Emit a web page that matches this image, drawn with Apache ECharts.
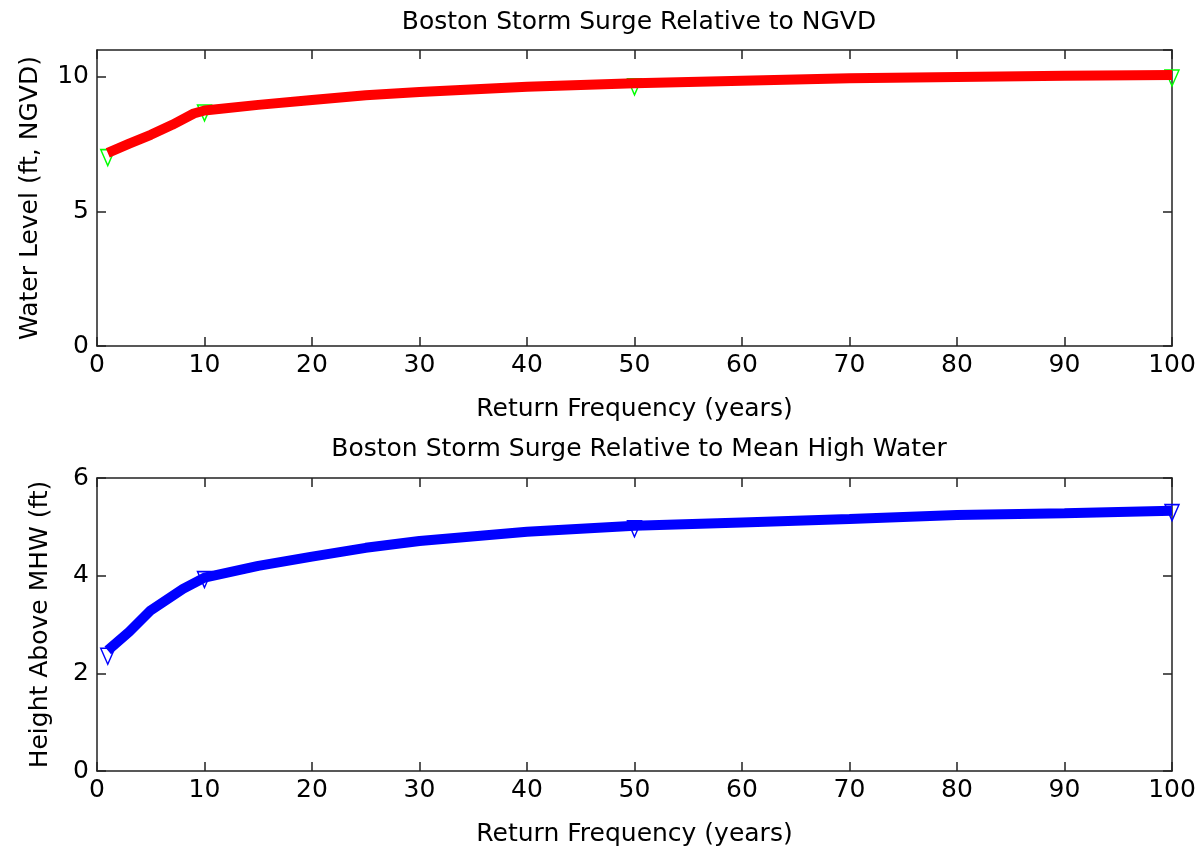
<!DOCTYPE html>
<html>
<head>
<meta charset="utf-8">
<script src="https://cdn.jsdelivr.net/npm/echarts@6/dist/echarts.min.js"></script>
<style>
html,body{margin:0;padding:0;background:#fff;}
#chart{width:1199px;height:850px;}
</style>
</head>
<body>
<div id="chart"></div>
<script>
// ---- data ----
const topTitle = "Boston Storm Surge Relative to NGVD";
const bottomTitle = "Boston Storm Surge Relative to Mean High Water";
const xName = "Return Frequency (years)";
const topYName = "Water Level (ft, NGVD)";
const bottomYName = "Height Above MHW (ft)";

const markerYears = [1, 10, 50, 100];
const ngvdObserved = [7.0, 8.66, 9.63, 9.96];
const mhwObserved = [2.35, 3.92, 4.96, 5.29];

const curveYearsTop = [1, 3, 5, 7, 9, 10, 15, 20, 25, 30, 40, 50, 60, 70, 80, 90, 100];
const ngvdCurve = [7.18, 7.52, 7.85, 8.22, 8.64, 8.75, 8.96, 9.14, 9.32, 9.44, 9.63, 9.76, 9.86, 9.95, 10.0, 10.04, 10.07];

const curveYearsBottom = [1, 3, 5, 8, 10, 15, 20, 25, 30, 40, 50, 60, 70, 80, 90, 100];
const mhwCurve = [2.47, 2.85, 3.29, 3.73, 3.96, 4.2, 4.39, 4.57, 4.71, 4.9, 5.02, 5.09, 5.16, 5.24, 5.28, 5.33];

const pairs = (xs, ys) => xs.map((x, i) => [x, ys[i]]);

// ---- chart ----
const FONT = 'DejaVu Sans';
const FS = 25;
const axisColor = '#222';
const chart = echarts.init(document.getElementById('chart'), null, {renderer: 'canvas'});

function xAx(gridIndex, position, showLabel, name) {
  return {
    type: 'value', gridIndex, position, min: 0, max: 100, interval: 10,
    name: name || '', nameLocation: 'middle', nameGap: 51,
    nameTextStyle: {color: '#000', fontSize: FS, fontFamily: FONT},
    axisLine: {show: true, onZero: false, lineStyle: {color: axisColor, width: 1.5}},
    axisTick: {show: true, inside: true, length: 9, lineStyle: {color: axisColor, width: 1.5}},
    axisLabel: {show: showLabel, color: '#000', fontSize: FS, fontFamily: FONT, margin: 7},
    splitLine: {show: false}
  };
}
function yAx(gridIndex, position, showLabel, max, interval, name, gap, showMax) {
  return {
    type: 'value', gridIndex, position, min: 0, max, interval,
    name: name || '', nameLocation: 'middle', nameGap: gap || 50, nameRotate: 90,
    nameTextStyle: {color: '#000', fontSize: FS, fontFamily: FONT},
    axisLine: {show: true, onZero: false, lineStyle: {color: axisColor, width: 1.5}},
    axisTick: {show: true, inside: true, length: 9, lineStyle: {color: axisColor, width: 1.5}},
    axisLabel: {show: showLabel, color: '#000', fontSize: FS, fontFamily: FONT, margin: 8, showMaxLabel: !!showMax},
    splitLine: {show: false}
  };
}

const option = {
  backgroundColor: '#fff',
  animation: false,
  title: [
    {text: topTitle, left: 634, top: 5, textAlign: 'center',
     textStyle: {color: '#000', fontSize: FS, fontWeight: 'normal', fontFamily: FONT}},
    {text: bottomTitle, left: 634, top: 432, textAlign: 'center',
     textStyle: {color: '#000', fontSize: FS, fontWeight: 'normal', fontFamily: FONT}}
  ],
  grid: [
    {left: 97, width: 1075, top: 50, height: 296},
    {left: 97, width: 1075, top: 478, height: 293}
  ],
  xAxis: [
    xAx(0, 'bottom', true, xName),
    xAx(0, 'top', false),
    xAx(1, 'bottom', true, xName),
    xAx(1, 'top', false)
  ],
  yAxis: [
    yAx(0, 'left', true, 11, 5, topYName, 54, false),
    yAx(0, 'right', false, 11, 5),
    yAx(1, 'left', true, 6, 2, bottomYName, 44, true),
    yAx(1, 'right', false, 6, 2)
  ],
  series: [
    {type: 'line', xAxisIndex: 0, yAxisIndex: 0, data: pairs(markerYears, ngvdObserved),
     symbol: 'triangle', symbolRotate: 180, symbolSize: [14, 16], showSymbol: true,
     lineStyle: {width: 0, opacity: 0},
     itemStyle: {color: 'rgba(0,0,0,0)', borderColor: '#00ff00', borderWidth: 1.5}, z: 2},
    {type: 'line', xAxisIndex: 0, yAxisIndex: 0, data: pairs(curveYearsTop, ngvdCurve),
     showSymbol: false, lineStyle: {color: '#ff0000', width: 10, cap: 'butt'}, z: 3},
    {type: 'line', xAxisIndex: 2, yAxisIndex: 2, data: pairs(markerYears, mhwObserved),
     symbol: 'triangle', symbolRotate: 180, symbolSize: [14, 16], showSymbol: true,
     lineStyle: {width: 0, opacity: 0},
     itemStyle: {color: 'rgba(0,0,0,0)', borderColor: '#0000ff', borderWidth: 1.5}, z: 2},
    {type: 'line', xAxisIndex: 2, yAxisIndex: 2, data: pairs(curveYearsBottom, mhwCurve),
     showSymbol: false, lineStyle: {color: '#0000ff', width: 10, cap: 'butt'}, z: 3}
  ]
};
chart.setOption(option);
</script>
</body>
</html>
